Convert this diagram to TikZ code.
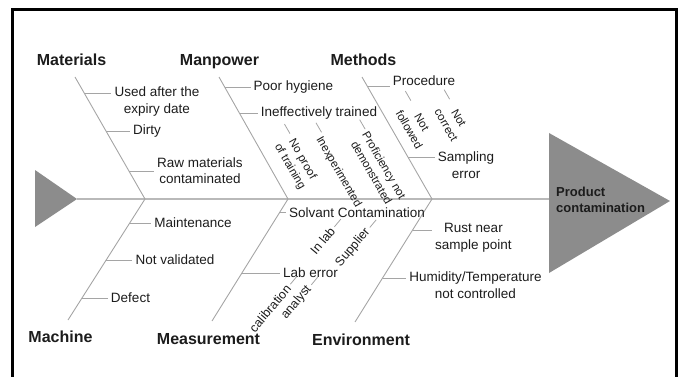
\documentclass[tikz,border=0pt]{standalone}
\usepackage{fontspec}
\setmainfont{Liberation Sans}
\usetikzlibrary{calc}
\definecolor{bonec}{RGB}{165,165,165}
\definecolor{spinec}{RGB}{185,185,185}
\definecolor{headc}{RGB}{140,140,140}
\definecolor{txt}{RGB}{28,28,28}
\begin{document}
\begin{tikzpicture}[x=1pt,y=-1pt,
  bone/.style={draw=bonec,line width=0.9pt},
  twig/.style={draw=bonec,line width=0.8pt},
  spine/.style={draw=spinec,line width=1.3pt},
  cat/.style={font=\fontsize{16}{19}\selectfont\bfseries,text=txt,inner sep=0pt,anchor=base},
  cause/.style={font=\fontsize{13.5}{16.5}\selectfont,text=txt,align=center,inner sep=3pt},
  subup/.style={font=\fontsize{11.5}{14.5}\selectfont,text=txt,align=center,inner sep=3pt,rotate=-60},
  subdn/.style={font=\fontsize{12.5}{15}\selectfont,text=txt,align=center,inner sep=3pt,rotate=50},
]
\useasboundingbox (0,0) rectangle (680,377);
% frame
\draw[line width=3pt] (12,385) -- (12,9.5) -- (676.5,9.5) -- (676.5,385);
% spine and heads
\coordinate (tail) at (77,199);
\coordinate (head) at (549,199);
\draw[spine] (tail) -- (head);
\fill[headc] (35,170) -- (tail) -- (35,227) -- cycle;
\fill[headc] (549,133) -- (670,201) -- (549,273) -- cycle;
\node[font=\fontsize{13}{16}\selectfont\bfseries,text=txt,align=left,anchor=west,inner sep=0pt] (effect) at (556,200) {Product\\contamination};
% bones
\coordinate (J1) at (145,199); \coordinate (A1) at (75,77);  \coordinate (B1) at (68,320);
\coordinate (J2) at (288,199); \coordinate (A2) at (219,77); \coordinate (B2) at (212,321);
\coordinate (J3) at (432,199); \coordinate (A3) at (362,77); \coordinate (B3) at (355,322);
\draw[bone] (A1) -- (J1) -- (B1);
\draw[bone] (A2) -- (J2) -- (B2);
\draw[bone] (A3) -- (J3) -- (B3);
% categories
\node[cat] (materials) at (71.5,66) {Materials};
\node[cat] (manpower) at (219.5,66) {Manpower};
\node[cat] (methods) at (363.5,66) {Methods};
\node[cat] (machine) at (60.5,342) {Machine};
\node[cat] (measurement) at (208.5,344) {Measurement};
\node[cat] (environment) at (361,345) {Environment};
% Materials causes
\coordinate (m1) at (84.2,93);  \node[cause] (usedafter) at (157,101.5) {Used after the\\expiry date};
\coordinate (m2) at (106,131);  \node[cause] (dirty) at (147,131) {Dirty};
\coordinate (m3) at (128.9,171); \node[cause] (rawmat) at (200,170.5) {Raw materials\\contaminated};
\draw[twig] (m1) -- (m1 -| usedafter.west);
\draw[twig] (m2) -- (m2 -| dirty.west);
\draw[twig] (m3) -- (m3 -| rawmat.west);
% Machine causes
\coordinate (c1) at (129.7,223); \node[cause] (maint) at (193,223) {Maintenance};
\coordinate (c2) at (106.2,260); \node[cause] (notval) at (175,260) {Not validated};
\coordinate (c3) at (82,298);    \node[cause] (defect) at (130.5,298) {Defect};
\draw[twig] (c1) -- (c1 -| maint.west);
\draw[twig] (c2) -- (c2 -| notval.west);
\draw[twig] (c3) -- (c3 -| defect.west);
% Manpower causes
\coordinate (p1) at (224.7,87);  \node[cause] (hygiene) at (293.5,87) {Poor hygiene};
\coordinate (p2) at (239.7,113); \node[cause] (ineff) at (319,113) {Ineffectively trained};
\draw[twig] (p1) -- (p1 -| hygiene.west);
\draw[twig] (p2) -- (p2 -| ineff.west);
\node[subup] (noproof) at (296,163) {No proof\\of training};
\node[subup] (inexp) at (338.5,172) {Inexperimented};
\node[subup] (profic) at (378,169) {Proficiency not\\demonstrated};
\draw[twig] ($(noproof.north west)!.2!(noproof.south west)$) -- ++(-5.5,-9.5);
\draw[twig] ($(inexp.north west)!.2!(inexp.south west)$) -- ++(-5.5,-9.5);
\draw[twig] ($(profic.north west)!.2!(profic.south west)$) -- ++(-5.5,-9.5);
% Methods causes
\coordinate (t1) at (367.2,86);  \node[cause] (proc) at (424,81) {Procedure};
\coordinate (t2) at (407.9,157); \node[cause] (sampling) at (466,165) {Sampling\\error};
\draw[twig] (t1) -- (t1 -| proc.west);
\draw[twig] (t2) -- (t2 -| sampling.west);
\node[subup] (notfol) at (415.5,126) {Not\\followed};
\node[subup] (notcor) at (452.5,121.5) {Not\\correct};
\draw[twig] ($(notfol.north west)!.2!(notfol.south west)$) -- ++(-5.5,-9.5);
\draw[twig] ($(notcor.north west)!.2!(notcor.south west)$) -- ++(-5.5,-9.5);
% Measurement causes
\coordinate (s1) at (279.9,212); \node[cause] (solvant) at (357,213) {Solvant Contamination};
\coordinate (s2) at (241.9,273); \node[cause] (laberr) at (310.5,273) {Lab error};
\draw[twig] (s1) -- (s1 -| solvant.west);
\draw[twig] (s2) -- (s2 -| laberr.west);
\node[subdn] (inlab) at (322.5,241) {In lab};
\node[subdn] (supplier) at (353,247.5) {Supplier};
\node[subdn] (calib) at (270,308.5) {calibration};
\node[subdn] (analyst) at (296.5,302.5) {analyst};
\draw[twig] (inlab.east) -- ++(6.4,-7.7);
\draw[twig] (supplier.east) -- ++(6.4,-7.7);
\draw[twig] (calib.east) -- ++(6.4,-7.7);
\draw[twig] (analyst.east) -- ++(6.4,-7.7);
% Environment causes
\coordinate (e1) at (412.6,230); \node[cause] (rust) at (473.5,238) {Rust near\\sample point};
\coordinate (e2) at (382.5,278); \node[cause] (humid) at (475.5,285) {Humidity/Temperature\\not controlled};
\draw[twig] (e1) -- (e1 -| rust.west);
\draw[twig] (e2) -- (e2 -| humid.west);
\end{tikzpicture}
\end{document}
